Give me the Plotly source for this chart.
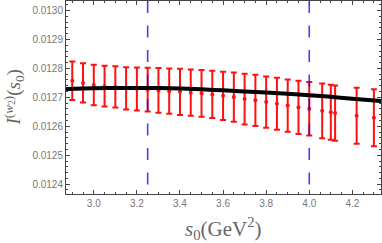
import plotly.graph_objects as go

# error-bar data
s0_pts = [2.90, 2.95, 3.00, 3.05, 3.10, 3.15, 3.20, 3.25, 3.30, 3.35, 3.40, 3.45, 3.50, 3.55,
          3.60, 3.65, 3.70, 3.75, 3.80, 3.85, 3.90, 3.95, 4.00, 4.06, 4.10, 4.12, 4.22, 4.30]
I_pts = [0.0127576, 0.0127500, 0.0127428, 0.0127387, 0.0127359, 0.0127311, 0.0127290, 0.0127266,
         0.0127239, 0.0127215, 0.0127191, 0.0127163, 0.0127139, 0.0127101, 0.0127053, 0.0127008,
         0.0126939, 0.0126898, 0.0126836, 0.0126778, 0.0126716, 0.0126654, 0.0126606, 0.0126537,
         0.0126486, 0.0126458, 0.0126365, 0.0126293]
I_err = [0.0000664, 0.0000681, 0.0000698, 0.0000705, 0.0000712, 0.0000732, 0.0000746, 0.0000757,
         0.0000774, 0.0000784, 0.0000798, 0.0000801, 0.0000808, 0.0000818, 0.0000836, 0.0000853,
         0.0000877, 0.0000884, 0.0000887, 0.0000901, 0.0000904, 0.0000922, 0.0000922, 0.0000946,
         0.0000953, 0.0000956, 0.0000970, 0.0000987]

# black curve
s0_curve = [2.871, 3.0, 3.1, 3.2, 3.3, 3.4, 3.5, 3.6, 3.7, 3.8, 3.9, 4.0, 4.1, 4.2, 4.333]
I_curve = [0.0127290, 0.0127314, 0.0127321, 0.0127325, 0.0127321, 0.0127304, 0.0127276, 0.0127242,
           0.0127204, 0.0127166, 0.0127125, 0.0127077, 0.0127019, 0.0126950, 0.0126871]

# vertical dashed lines
vlines = [3.25, 4.0]

x_range = [2.871, 4.333]
y_range = [0.012366, 0.013033]

fig = go.Figure()
fig.add_trace(go.Scatter(
    x=s0_pts, y=I_pts, mode="markers",
    marker=dict(color="#ff1010", size=4),
    error_y=dict(type="data", array=I_err, visible=True, color="#ff1010", thickness=2, width=3),
    showlegend=False))
for v in vlines:
    fig.add_trace(go.Scatter(
        x=[v, v], y=[y_range[1], y_range[0]], mode="lines",
        line=dict(color="rgba(20,20,235,0.8)", width=1.6, dash="12px,12.5px"),
        showlegend=False))
fig.add_trace(go.Scatter(
    x=s0_curve, y=I_curve, mode="lines", line=dict(color="black", width=4, shape="spline"),
    showlegend=False))

axis_common = dict(showgrid=False, zeroline=False, showline=True, linecolor="#444", linewidth=1,
                   mirror="ticks", ticks="inside", ticklen=4, tickcolor="#444",
                   tickfont=dict(family="Liberation Sans, Arial", size=10, color="#777"))
fig.update_xaxes(range=x_range, tick0=3.0, dtick=0.2, tickformat=".1f",
                 minor=dict(ticks="inside", ticklen=2, dtick=0.05, tickcolor="#444"),
                 **axis_common)
fig.update_yaxes(range=y_range, tick0=0.0124, dtick=0.0001, tickformat=".4f",
                 minor=dict(ticks="inside", ticklen=2, dtick=0.00002, tickcolor="#444"),
                 **axis_common)

fig.update_layout(
    width=382, height=243, margin=dict(l=66, r=1, t=1, b=49),
    plot_bgcolor="white", paper_bgcolor="white",
    annotations=[
        dict(text="<i>s</i><sub>0</sub>(GeV<sup>2</sup>)", xref="paper", yref="paper",
             x=0.5, y=-0.18, xanchor="center", yanchor="middle", showarrow=False,
             font=dict(family="Liberation Serif, Times New Roman", size=21, color="#666")),
        dict(text="<i>I</i><sup>(<i>w</i><sub>2</sub>)</sup>(<i>s</i><sub>0</sub>)", xref="paper", yref="paper",
             x=-0.165, y=0.5, xanchor="center", yanchor="middle", textangle=-90, showarrow=False,
             font=dict(family="Liberation Serif, Times New Roman", size=19, color="#666")),
    ],
)
fig.write_html("out.html", config={"displayModeBar": False},
               post_script="document.body.style.margin='0';")
